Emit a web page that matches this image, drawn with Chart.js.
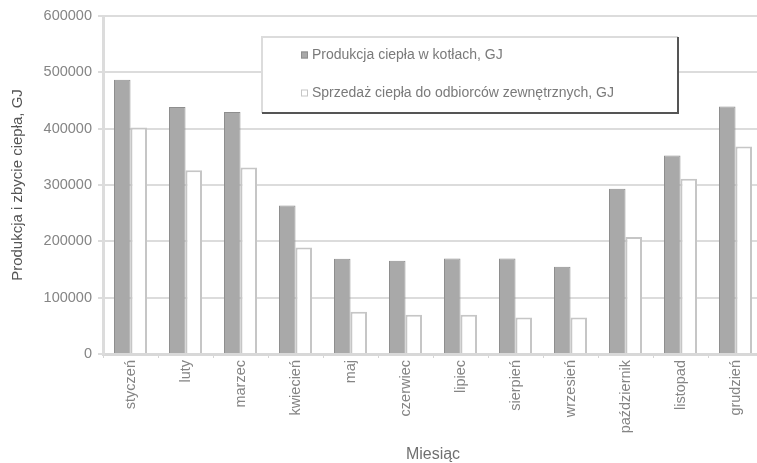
<!DOCTYPE html>
<html lang="pl">
<head>
<meta charset="utf-8">
<script src="https://cdn.jsdelivr.net/npm/chart.js@4.4.1/dist/chart.umd.min.js"></script>
<style>
  html, body { margin: 0; padding: 0; background: #fff; overflow: hidden; }
  #wrap { position: relative; width: 763px; height: 463px; }
</style>
</head>
<body>
<div id="wrap"><canvas id="c"></canvas></div>
<script>
// Miesięczna produkcja i sprzedaż ciepła
const months = ['styczeń', 'luty', 'marzec', 'kwiecień', 'maj', 'czerwiec',
  'lipiec', 'sierpień', 'wrzesień', 'październik', 'listopad', 'grudzień'];
const production = [487000, 438500, 429500, 263500, 169000, 165500,
  169500, 169500, 155000, 293500, 352500, 439500];
const sales = [402000, 326000, 331000, 189000, 75000, 69500,
  69500, 65000, 65000, 207500, 311000, 368500];
const yTicks = [0, 100000, 200000, 300000, 400000, 500000, 600000];

const seriesNames = ['Produkcja ciepła w kotłach, GJ',
  'Sprzedaż ciepła do odbiorców zewnętrznych, GJ'];

const FONT = "'Liberation Sans', Arial, sans-serif";

// legenda rysowana w ramce wewnątrz obszaru wykresu
const boxLegend = {
  id: 'boxLegend',
  afterDraw(chart) {
    const ctx = chart.ctx;
    const x0 = 262, y0 = 37, x1 = 678, y1 = 113;
    ctx.save();
    ctx.fillStyle = '#fff';
    ctx.fillRect(x0, y0, x1 - x0, y1 - y0);
    ctx.strokeStyle = '#dcdcdc';
    ctx.lineWidth = 2;
    ctx.beginPath();
    ctx.moveTo(x0, y1); ctx.lineTo(x0, y0); ctx.lineTo(x1, y0);
    ctx.stroke();
    ctx.strokeStyle = '#555';
    ctx.beginPath();
    ctx.moveTo(x1, y0); ctx.lineTo(x1, y1); ctx.lineTo(x0, y1);
    ctx.stroke();
    const rows = [55, 93];
    ctx.font = '14px ' + FONT;
    ctx.textBaseline = 'middle';
    chart.data.datasets.forEach((ds, i) => {
      const y = rows[i];
      ctx.fillStyle = ds.backgroundColor;
      ctx.fillRect(301, y - 3.5, 7, 7);
      ctx.strokeStyle = ds.borderColor;
      ctx.lineWidth = 1;
      ctx.strokeRect(301.5, y - 3, 6, 6);
      ctx.fillStyle = '#7a7a7a';
      ctx.fillText(ds.label, 312, y + 0.5);
    });
    ctx.restore();
  }
};

new Chart(document.getElementById('c'), {
  type: 'bar',
  data: {
    labels: months,
    datasets: [
      { label: seriesNames[0], data: production, backgroundColor: '#a9a9a9',
        borderColor: '#8e8e8e', borderWidth: 1 },
      { label: seriesNames[1], data: sales, backgroundColor: '#ffffff',
        borderColor: '#c6c6c6', borderWidth: 2 }
    ]
  },
  options: {
    responsive: true,
    maintainAspectRatio: false,
    animation: false,
    layout: { padding: { top: 16, left: 0, right: 0, bottom: 0 } },
    datasets: { bar: { categoryPercentage: 0.6, barPercentage: 1.0 } },
    plugins: { legend: { display: false }, tooltip: { enabled: false } },
    scales: {
      x: {
        grid: { display: true, drawOnChartArea: false, color: '#d4d4d4', lineWidth: 1, tickLength: 4, offset: true },
        border: { color: '#d8d8d8', width: 3 },
        ticks: { color: '#858585', font: { family: FONT, size: 14.5 }, maxRotation: 90, minRotation: 90, padding: 2 },
        title: { display: true, text: 'Miesiąc', color: '#707070', font: { family: FONT, size: 16, lineHeight: 1 }, padding: { top: 0, bottom: 0 } },
        afterFit(scale) { scale.height = 109; }
      },
      y: {
        min: 0, max: 600000,
        afterBuildTicks(scale) { scale.ticks = yTicks.map(v => ({ value: v })); },
        grid: { color: '#dcdcdc', lineWidth: 2, tickLength: 5 },
        border: { color: '#dcdcdc', width: 3 },
        ticks: { color: '#858585', font: { family: FONT, size: 14.5 }, padding: 6, callback: v => String(v) },
        title: { display: true, text: 'Produkcja i zbycie ciepła, GJ', color: '#555', font: { family: FONT, size: 15, lineHeight: 1.2 }, padding: { top: 9, bottom: 0 } },
        afterFit(scale) { scale.width = 103; }
      }
    }
  },
  plugins: [boxLegend]
});
</script>
</body>
</html>
